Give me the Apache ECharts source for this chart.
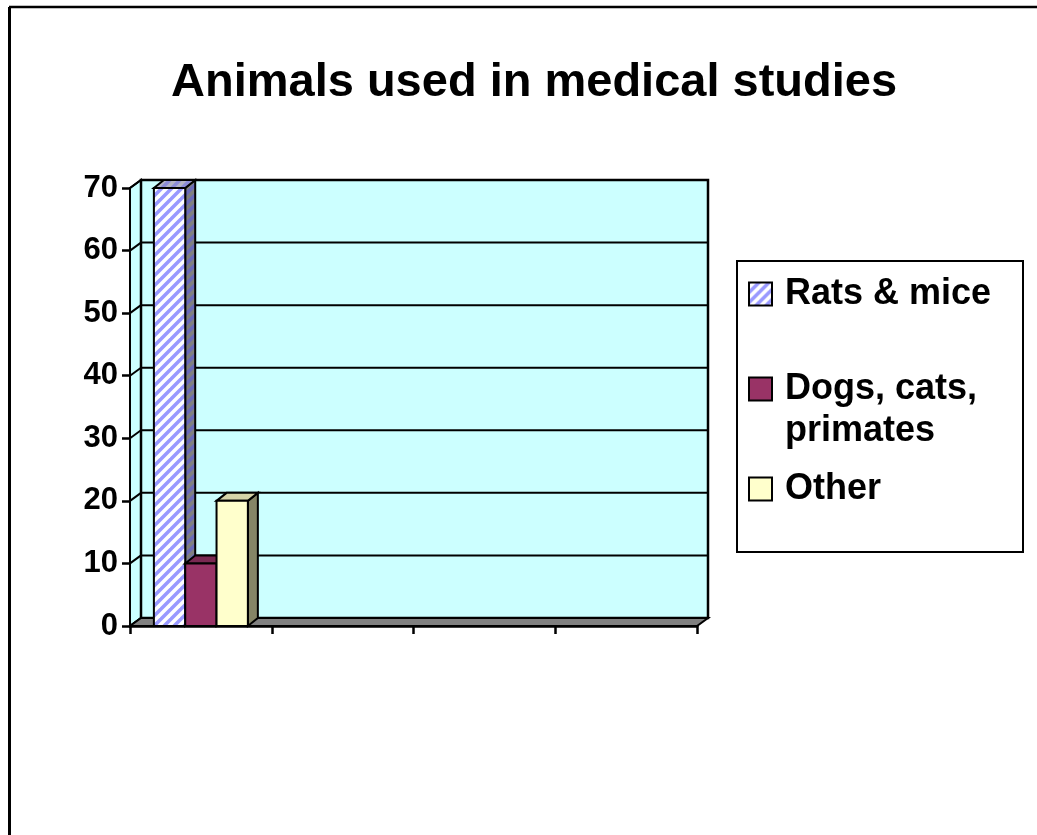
<!DOCTYPE html>
<html>
<head>
<meta charset="utf-8">
<title>Animals used in medical studies</title>
<script src="https://cdn.jsdelivr.net/npm/echarts@6/dist/echarts.min.js"></script>
<style>
  html, body { margin: 0; padding: 0; background: #ffffff; }
  #chart { width: 1037px; height: 835px; }
</style>
</head>
<body>
<div id="chart"></div>
<script>
// chart data
const categories = ["", "", "", ""];
const ratsMice = [70];
const dogsCatsPrimates = [10];
const other = [20];
const yTicks = [0, 10, 20, 30, 40, 50, 60, 70];

const FONT = "'Liberation Sans', Arial, sans-serif";
// 3d depth of walls and bars
const DX = 11;
const DY = -8;

function stripes(bg, fg) {
  let c = document.createElement("canvas");
  c.width = 10;
  c.height = 10;
  let ctx = c.getContext("2d");
  ctx.fillStyle = bg;
  ctx.fillRect(0, 0, 10, 10);
  ctx.strokeStyle = fg;
  ctx.lineWidth = 3.5;
  [0, 10, 20].forEach((k) => {
    ctx.beginPath();
    ctx.moveTo(k + 3, -3);
    ctx.lineTo(k - 13, 13);
    ctx.stroke();
  });
  return { image: c, repeat: "repeat" };
}

const ratsFront = stripes("#ffffff", "#9999ff");
const ratsSide = stripes("#808080", "#6a6ab8");
const ratsTop = stripes("#b4b4c4", "#8c8cd8");

function renderWalls(params, api) {
  let cs = params.coordSys;
  let x0 = cs.x, x1 = cs.x + cs.width;
  let yTop = cs.y, yBot = cs.y + cs.height;
  let line = { stroke: "#000", lineWidth: 2 };
  let children = [
    {
      type: "polygon",
      shape: { points: [[x0, yTop], [x0 + DX, yTop + DY], [x0 + DX, yBot + DY], [x0, yBot]] },
      style: { fill: "#ccffff", stroke: "#000", lineWidth: 2 },
    },
    {
      type: "rect",
      shape: { x: x0 + DX, y: yTop + DY, width: cs.width, height: cs.height },
      style: { fill: "#ccffff", stroke: "#000", lineWidth: 2.5 },
    },
  ];
  yTicks.forEach((v) => {
    let y = api.coord([0, v])[1];
    children.push({ type: "line", shape: { x1: x0 + DX, y1: y + DY, x2: x1 + DX, y2: y + DY }, style: line });
    children.push({ type: "line", shape: { x1: x0, y1: y, x2: x0 + DX, y2: y + DY }, style: line });
  });
  children.push({
    type: "polygon",
    shape: { points: [[x0, yBot], [x0 + DX, yBot + DY], [x1 + DX, yBot + DY], [x1, yBot]] },
    style: { fill: "#808080", stroke: "#000", lineWidth: 2 },
  });
  return { type: "group", children: children };
}

function barRenderer(k, front, side, top) {
  return function (params, api) {
    let cat = api.value(0);
    let base = api.coord([cat, 0]);
    let peak = api.coord([cat, api.value(1)]);
    let bw = api.size([1, 0])[0] * 0.221;
    let l = base[0] + (k - 1.5) * bw;
    let r = l + bw;
    let dx = 10;
    let edge = { stroke: "#000", lineWidth: 2 };
    return {
      type: "group",
      children: [
        {
          type: "polygon",
          shape: { points: [[r, peak[1]], [r + dx, peak[1] + DY], [r + dx, base[1] + DY], [r, base[1]]] },
          style: Object.assign({ fill: side }, edge),
        },
        {
          type: "polygon",
          shape: { points: [[l, peak[1]], [l + dx, peak[1] + DY], [r + dx, peak[1] + DY], [r, peak[1]]] },
          style: Object.assign({ fill: top }, edge),
        },
        {
          type: "rect",
          shape: { x: l, y: peak[1], width: bw, height: base[1] - peak[1] },
          style: Object.assign({ fill: front }, edge),
        },
      ],
    };
  };
}

function toItems(values) {
  return values.map((v, i) => [i, v]);
}

let legendCommon = {
  orient: "vertical",
  padding: 0,
  itemWidth: 23,
  itemHeight: 23,
  icon: "rect",
  selectedMode: false,
  z: 10,
  itemStyle: { borderColor: "#000", borderWidth: 2 },
  textStyle: {
    color: "#000",
    fontSize: 36,
    fontWeight: "bold",
    fontFamily: FONT,
    lineHeight: 42,
    padding: [0, 0, 0, 8],
  },
};

let option = {
  animation: false,
  backgroundColor: "#ffffff",
  title: {
    text: "Animals used in medical studies",
    left: 171,
    top: 60,
    padding: 0,
    textStyle: { color: "#000", fontSize: 47, fontWeight: "bold", fontFamily: FONT },
  },
  graphic: [
    { type: "line", shape: { x1: 9, y1: 7, x2: 1037, y2: 7 }, style: { stroke: "#000", lineWidth: 2.5 } },
    { type: "line", shape: { x1: 9.5, y1: 7, x2: 9.5, y2: 835 }, style: { stroke: "#000", lineWidth: 3 } },
    {
      type: "rect",
      shape: { x: 737, y: 261, width: 286, height: 291 },
      style: { fill: "#fff", stroke: "#000", lineWidth: 2 },
    },
  ],
  legend: [
    Object.assign({ data: ["Rats & mice"], left: 748, top: 273 }, legendCommon),
    Object.assign(
      {
        data: ["Dogs, cats, primates"],
        left: 748,
        top: 326,
        formatter: () => " \nDogs, cats,\nprimates",
      },
      legendCommon
    ),
    Object.assign({ data: ["Other"], left: 748, top: 468 }, legendCommon),
  ],
  grid: {
    left: 130,
    right: 340,
    top: 188,
    bottom: 209,
    containLabel: false,
  },
  xAxis: {
    type: "category",
    data: categories,
    boundaryGap: true,
    axisLine: { lineStyle: { color: "#000", width: 2.5 } },
    axisTick: { show: true, interval: 0, length: 8, lineStyle: { color: "#000", width: 2.5 } },
    axisLabel: { show: false },
    splitLine: { show: false },
  },
  yAxis: {
    type: "value",
    min: 0,
    max: 70,
    interval: 10,
    axisLine: { show: true, lineStyle: { color: "#000", width: 2.5 } },
    axisTick: { show: true, length: 8, lineStyle: { color: "#000", width: 2.5 } },
    axisLabel: { color: "#000", fontSize: 31, fontWeight: "bold", fontFamily: FONT, margin: 12 },
    splitLine: { show: false },
  },
  series: [
    {
      name: "walls",
      type: "custom",
      renderItem: renderWalls,
      data: [[0, 0]],
      silent: true,
      z: 1,
    },
    {
      name: "Rats & mice",
      type: "custom",
      renderItem: barRenderer(0, ratsFront, ratsSide, ratsTop),
      itemStyle: { color: ratsFront, borderColor: "#000", borderWidth: 2 },
      data: toItems(ratsMice),
      z: 2,
    },
    {
      name: "Dogs, cats, primates",
      type: "custom",
      renderItem: barRenderer(1, "#993366", "#4d1a33", "#7a2952"),
      itemStyle: { color: "#993366", borderColor: "#000", borderWidth: 2 },
      data: toItems(dogsCatsPrimates),
      z: 3,
    },
    {
      name: "Other",
      type: "custom",
      renderItem: barRenderer(2, "#ffffcc", "#858566", "#d6d3a8"),
      itemStyle: { color: "#ffffcc", borderColor: "#000", borderWidth: 2 },
      data: toItems(other),
      z: 4,
    },
  ],
};

let myChart = echarts.init(document.getElementById("chart"));
myChart.setOption(option);
</script>
</body>
</html>
